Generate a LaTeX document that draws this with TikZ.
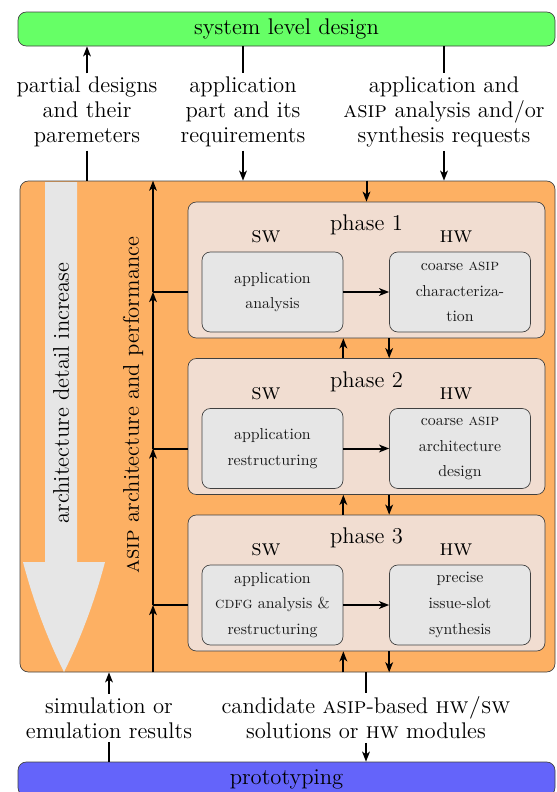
\documentclass[tikz,border=0pt]{standalone}
\usepackage{fontspec}
\usepackage{tikz}
\usetikzlibrary{arrows.meta,positioning,calc}
\definecolor{SysGreen}{HTML}{66FF66}
\definecolor{FlowOrange}{HTML}{FDB063}
\definecolor{PhaseTint}{HTML}{F1DDD1}
\definecolor{TaskGrey}{HTML}{E6E6E6}
\definecolor{ProtoBlue}{HTML}{6464FA}
\definecolor{EdgeGrey}{HTML}{404040}
\newcommand{\lblfont}{\fontsize{13.6}{15}\selectfont}
\newcommand{\taskfont}{\fontsize{9.5}{15.4}\selectfont\addfontfeature{LetterSpace=8}}

\begin{document}
\begin{tikzpicture}[x=0.6pt,y=-0.6pt,
  level/.style={draw=EdgeGrey,rounded corners=5pt,minimum width=322.2pt,minimum height=20.4pt,inner sep=0pt,font=\lblfont},
  flow/.style={draw=EdgeGrey,fill=FlowOrange,rounded corners=5pt,minimum width=321pt,minimum height=294.6pt,inner sep=0pt},
  phasebox/.style={draw=EdgeGrey,fill=PhaseTint,rounded corners=5pt,minimum width=214.2pt,minimum height=81.6pt,inner sep=0pt},
  task/.style={draw=EdgeGrey,fill=TaskGrey,rounded corners=5pt,minimum width=84.6pt,minimum height=48pt,inner sep=0pt,align=center,font=\taskfont,text=black!90},
  lbl/.style={align=center,font=\lblfont,inner sep=2pt},
  arr/.style={-{Stealth[length=6pt,width=4.6pt,inset=1.6pt]},line width=1.2pt},
  ln/.style={line width=1.2pt}
]
\clip (0,0) rectangle (556,792);
\node[level,fill=SysGreen] (sld) at (286.5,29) {system level design};
\node[level,fill=ProtoBlue] (proto) at (286.5,779) {prototyping};
\node[flow] (asip) at (287.5,426.5) {};
% detail arrow
\fill[TaskGrey] (45,182) -- (45,562) -- (23,562) .. controls (33,600) and (46.6,637) .. (64,672)
  .. controls (81.4,637) and (95,600) .. (105,562) -- (77,562) -- (77,182) -- cycle;
\node[font=\lblfont,rotate=90] (detail) at (61,393) {architecture detail increase};
\node[font=\lblfont,rotate=90] (perf) at (133,405) {\textsc{asip} architecture and performance};
\coordinate (bus) at (153,426.5);
% phases
\foreach \i/\y in {1/270,2/426.5,3/583} {
  \node[phasebox] (ph\i) at (366.5,\y) {};
  \node[font=\lblfont] (ttl\i) at (366.5,\y-45) {phase \i};
  \node[font=\lblfont] (swl\i) at (266,\y-33) {\textsc{sw}};
  \node[font=\lblfont] (hwl\i) at (456,\y-33) {\textsc{hw}};
}
\node[task] (sw1) at (272.5,292) {application\\analysis};
\node[task] (hw1) at (460,292) {coarse \textsc{asip}\\characteriza-\\tion};
\node[task] (sw2) at (272.5,448.5) {application\\restructuring};
\node[task] (hw2) at (460,448.5) {coarse \textsc{asip}\\architecture\\design};
\node[task] (sw3) at (272.5,605) {application\\\textsc{cdfg} analysis \&\\restructuring};
\node[task] (hw3) at (460,605) {precise\\issue-slot\\synthesis};
\foreach \i in {1,2,3} {
  \draw[arr] (sw\i) -- (hw\i);
  \draw[ln] (ph\i.west |- sw\i) -- (bus |- sw\i);
}
% feedback bus
\draw[arr] (bus |- asip.south) -- (bus |- sw3);
\draw[arr] (bus |- sw3) -- (bus |- sw2);
\draw[arr] (bus |- sw2) -- (bus |- sw1);
\draw[arr] (bus |- sw1) -- (bus |- asip.north);
% between phases
\draw[arr] (ph1.north |- asip.north) -- (ph1.north);
\draw[arr] (sw2.east |- ph2.north) -- (sw2.east |- ph1.south);
\draw[arr] (hw1.west |- ph1.south) -- (hw1.west |- ph2.north);
\draw[arr] (sw3.east |- ph3.north) -- (sw3.east |- ph2.south);
\draw[arr] (hw2.west |- ph2.south) -- (hw2.west |- ph3.north);
\draw[arr] (sw3.east |- asip.south) -- (sw3.east |- ph3.south);
\draw[arr] (hw3.west |- ph3.south) -- (hw3.west |- asip.south);
% outside labels
\node[lbl] (parts) at (87,112) {partial designs\\and their\\paremeters};
\node[lbl] (appreq) at (243,112) {application\\part and its\\requirements};
\node[lbl] (synreq) at (444,112) {application and\\\textsc{asip} analysis and/or\\synthesis requests};
\node[lbl] (simres) at (109,718) {simulation or\\emulation results};
\node[lbl] (cands) at (366,718) {candidate \textsc{asip}-based \textsc{hw/sw}\\solutions or \textsc{hw} modules};
\draw[arr] (parts) -- (parts |- sld.south);
\draw[ln] (parts) -- (parts |- asip.north);
\draw[ln] (appreq |- sld.south) -- (appreq);
\draw[arr] (appreq) -- (appreq |- asip.north);
\draw[ln] (synreq |- sld.south) -- (synreq);
\draw[arr] (synreq) -- (synreq |- asip.north);
\draw[arr] (simres) -- (simres |- asip.south);
\draw[ln] (simres |- proto.north) -- (simres);
\draw[ln] (cands |- asip.south) -- (cands);
\draw[arr] (cands) -- (cands |- proto.north);
\end{tikzpicture}
\end{document}
